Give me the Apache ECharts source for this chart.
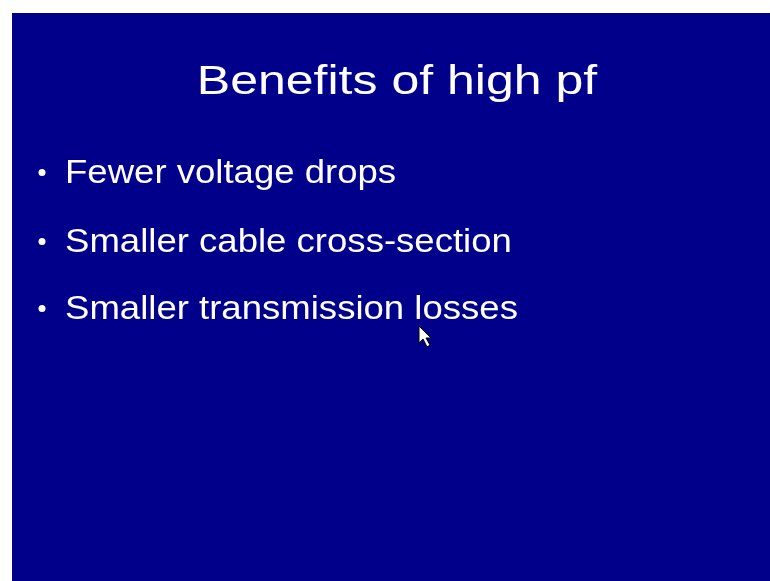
<!DOCTYPE html>
<html>
<head>
<meta charset="utf-8">
<title>Benefits of high pf</title>
<script src="https://cdn.jsdelivr.net/npm/echarts@6/dist/echarts.min.js"></script>
<style>
  html, body { margin: 0; padding: 0; background: #fff; }
  #main { width: 770px; height: 581px; }
</style>
</head>
<body>
<div id="main"></div>
<script>
var slideTitle = 'Benefits of high pf';
var bullets = ['Fewer voltage drops', 'Smaller cable cross-section', 'Smaller transmission losses'];
var bulletBaselines = [185, 254, 321];

var chart = echarts.init(document.getElementById('main'));

// text is placed with verticalAlign 'middle'; baseline sits ~0.3465em below that
function midY(baseline, size) {
    return baseline - 0.3465 * size;
}

var elements = [
    {
        type: 'rect',
        shape: { x: 12, y: 13, width: 758, height: 568 },
        style: { fill: '#01008b' }
    },
    {
        type: 'text',
        x: 397, y: midY(97, 41),
        scaleX: 1.22,
        style: {
            text: slideTitle,
            fill: '#fff',
            font: '41px "Liberation Sans", Arial, sans-serif',
            align: 'center',
            verticalAlign: 'middle'
        }
    }
];

bullets.forEach(function (b, i) {
    elements.push({
        type: 'circle',
        shape: { cx: 42, cy: bulletBaselines[i] - 12.5, r: 3.5 },
        style: { fill: '#fff' }
    });
    elements.push({
        type: 'text',
        x: 65, y: midY(bulletBaselines[i], 34),
        scaleX: 1.075,
        style: {
            text: b,
            fill: '#fff',
            font: '34px "Liberation Sans", Arial, sans-serif',
            align: 'left',
            verticalAlign: 'middle'
        }
    });
});

// mouse pointer left on the slide
elements.push({
    type: 'polygon',
    shape: { points: [[419, 326], [419, 343], [423, 339], [427, 347], [430, 345], [426, 338], [431, 338]] },
    style: { fill: '#fff', stroke: '#000', lineWidth: 1 }
});

chart.setOption({
    backgroundColor: '#fff',
    animation: false,
    graphic: { elements: elements }
});
</script>
</body>
</html>
